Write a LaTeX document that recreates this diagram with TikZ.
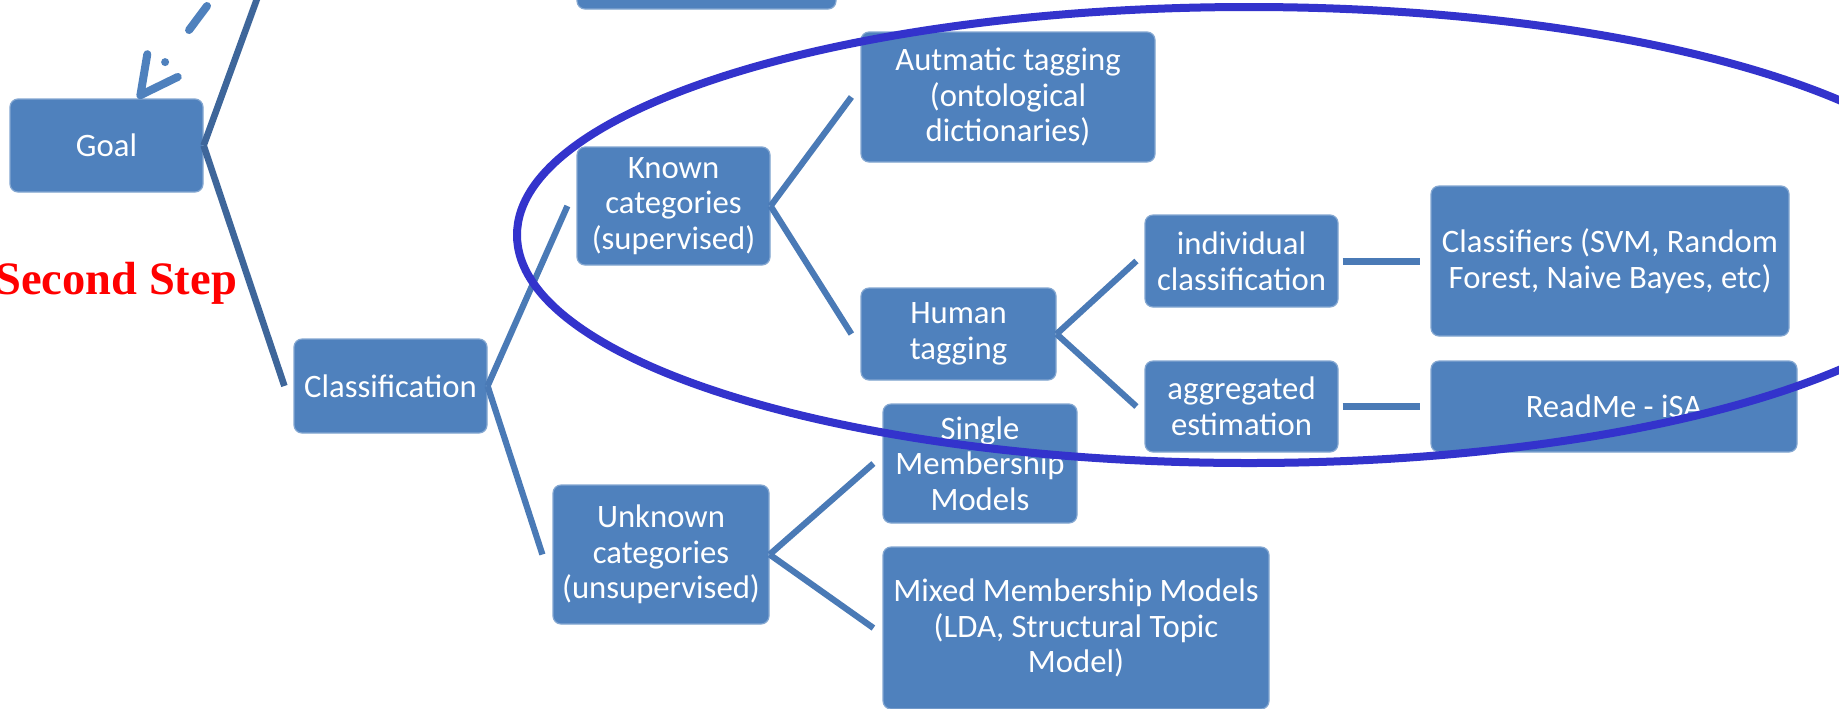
\documentclass[tikz,border=0pt]{standalone}
\usepackage{fontspec}
\setmainfont{Carlito}
\newfontfamily\stepfont{Liberation Serif}
\usepackage{xcolor}
\usepackage{tikz}
\usetikzlibrary{positioning,arrows.meta}
\definecolor{boxblue}{RGB}{79,129,189}
\definecolor{linkblue}{RGB}{74,122,182}
\definecolor{trunkblue}{RGB}{62,102,154}
\definecolor{ringblue}{RGB}{51,51,204}
\newcommand{\boxfont}{\fontsize{16.35pt}{17.8pt}\selectfont}
\newcommand{\stepfontsize}{\fontsize{23.25pt}{28pt}\selectfont}

\begin{document}
\begin{tikzpicture}[x=0.5pt,y=-0.5pt,on grid,
      box/.style={rectangle,rounded corners=4pt,fill=boxblue,draw=boxblue!70!white,line width=0.6pt,text=white,font=\boxfont,align=center,inner sep=2pt,minimum width=96.5pt,minimum height=46pt},
      link/.style={draw=linkblue,line width=3.1pt},
      trunk/.style={draw=trunkblue,line width=3.3pt},
      hint/.style={draw=boxblue,line width=4pt,line cap=round,dash pattern=on 15pt off 20pt on 0pt off 20pt,-{Straight Barb[length=18.5pt,width=19pt,round]}},
      ring/.style={draw=ringblue,line width=4pt},
      steplabel/.style={text=red,font=\stepfont\bfseries\stepfontsize,inner sep=0pt}]
      \clip (0,0) rectangle (1839,708);
      \fill[white] (0,0) rectangle (1839,708);
      \node[box,minimum width=129.5pt,minimum height=46.5pt] (upperbox) at (706.5,-37.5) {};
      \node[box,minimum height=46.5pt] (goal) at (106.5,145.5) {Goal};
      \node[box,minimum height=47pt,below right=120.25pt and 142pt of goal] (classif) {Classification};
      \node[box,minimum height=59pt,above right=90pt and 141.5pt of classif] (known) {Known\\categories\\(supervised)};
      \node[box,minimum width=108pt,minimum height=69.5pt,below right=84.25pt and 135.25pt of classif] (unknown) {Unknown\\categories\\(unsupervised)};
      \node[box,minimum width=147pt,minimum height=65pt,above right=54.5pt and 167.25pt of known] (autotag) {Autmatic tagging\\(ontological\\dictionaries)};
      \node[box,minimum width=97.5pt,below right=64pt and 142.5pt of known] (human) {Human\\tagging};
      \node[box,above right=36.5pt and 141.5pt of human] (indiv) {individual\\classification};
      \node[box,minimum height=45.5pt,below right=36.25pt and 141.5pt of human] (aggr) {aggregated\\estimation};
      \node[box,minimum width=179pt,minimum height=75pt,right=184.25pt of indiv] (classifiers) {Classifiers (SVM, Random\\Forest, Naive Bayes, etc)};
      \node[box,minimum width=183pt,minimum height=45.5pt,right=186.25pt of aggr] (readme) {ReadMe - iSA};
      \node[box,minimum width=97pt,minimum height=59.5pt,above right=45.5pt and 159.5pt of unknown] (single) {Single\\Membership\\Models};
      \node[box,minimum width=193pt,minimum height=81pt,below right=36.75pt and 207.5pt of unknown] (mixed) {Mixed Membership Models\\(LDA, Structural Topic\\Model)};
      \node[steplabel,anchor=base west] (steptext) at (-5,294) {Second Step};
      \coordinate (upperlink) at (285,-78);
      \coordinate (fromabove) at (207,6);
      \path[trunk]
      (goal.east) edge (upperlink)
      (goal.east) edge ([xshift=-4.5pt]classif.west)
      ;
      \path[link]
      (classif.east) edge ([xshift=-4.5pt]known.west)
      (classif.east) edge ([xshift=-5pt]unknown.west)
      (known.east) edge ([xshift=-4.5pt]autotag.west)
      (known.east) edge ([xshift=-4.5pt]human.west)
      (human.east) edge ([xshift=-4pt]indiv.west)
      (human.east) edge ([xshift=-4pt]aggr.west)
      (unknown.east) edge ([xshift=-4.5pt]single.west)
      (unknown.east) edge ([xshift=-4.5pt]mixed.west)
      ;
      \path[link,line width=3.5pt]
      ([xshift=2pt]indiv.east) edge ([xshift=-5pt]classifiers.west)
      ([xshift=2pt]aggr.east) edge ([xshift=-5pt]readme.west)
      ;
      \draw[hint] (fromabove) -- ([xshift=15.75pt]goal.north);
      \draw[ring] (1249,235) ellipse [x radius=366pt,y radius=114pt];
    \end{tikzpicture}
\end{document}
